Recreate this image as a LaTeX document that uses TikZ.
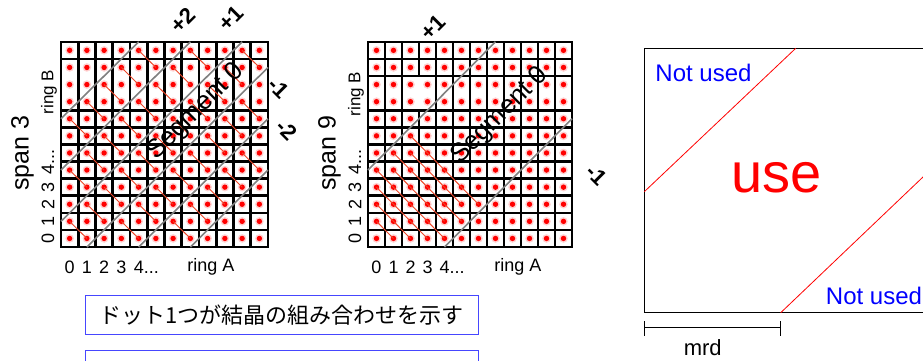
\documentclass[tikz,border=0pt]{standalone}
\usepackage{fontspec}
\setmainfont{Liberation Sans}
\newfontfamily\jpfont{Noto Sans CJK JP}
\definecolor{pairred}{RGB}{238,70,40}
\definecolor{boxblue}{RGB}{70,70,255}
\begin{document}
\begin{tikzpicture}[x=1pt,y=-1pt,
  cellst/.style={draw=black,line width=2.6pt,fill=white},
  dotst/.style={circle,fill=red,inner sep=0pt,minimum size=5.4pt},
  segline/.style={draw=gray,line width=1.6pt},
  pairline/.style={draw=pairred,line width=0.9pt},
  digit/.style={font=\fontsize{18}{18}\selectfont,inner sep=0pt},
  ringlab/.style={font=\fontsize{17}{17}\selectfont,inner sep=0pt},
  spanlab/.style={font=\fontsize{25}{25}\selectfont,inner sep=0pt,rotate=90},
  seglab/.style={font=\fontsize{26}{26}\selectfont,inner sep=0pt,rotate=45},
  bandlab/.style={font=\fontsize{22}{22}\selectfont\bfseries,inner sep=0pt},
  notused/.style={font=\fontsize{24}{24}\selectfont,text=blue,inner sep=0pt},
  jpbox/.style={draw=boxblue,line width=1pt,minimum width=393pt,minimum height=39pt,inner sep=0pt}]
\useasboundingbox (0,0) rectangle (923,360);
\fill[white] (0,0) rectangle (923,360);

% ---------------- left grid (span 3) ----------------
\begin{scope}[shift={(61,247)},x=17.25pt,y=17.1pt]
  \foreach \j in {0,...,7,11}{\foreach \i in {0,...,11}{\draw[cellst] (\i,\j) rectangle ++(1,1);}}
  \foreach \i in {0,...,11}{\draw[cellst] (\i,8) rectangle ++(1,3);}
  \foreach \c in {1.5,4.5,7.5}{
    \draw[segline] (0,\c) -- ({12-\c},12);
    \draw[segline] (\c,0) -- (12,{12-\c});
  }
  \foreach \i in {0,...,11}{\foreach \j in {0,...,11}{
    \fill[red!18] (\i+.5,\j+.5) circle (4.3pt);
    \node[dotst] (L-\i-\j) at (\i+.5,\j+.5) {};
  }}
  % segment 0
  \foreach \a in {0,...,10}{\pgfmathtruncatemacro\b{\a+1}
    \draw[pairline] (L-\a-\b.center) -- (L-\b-\a.center);}
  % segments +1 / -1
  \foreach \a in {0,...,7}{\pgfmathtruncatemacro\b{\a+1}\pgfmathtruncatemacro\c{\a+3}\pgfmathtruncatemacro\d{\a+4}
    \draw[pairline] (L-\a-\d.center) -- (L-\b-\c.center);
    \draw[pairline] (L-\d-\a.center) -- (L-\c-\b.center);}
  % segments +2 / -2
  \foreach \a in {0,...,4}{\pgfmathtruncatemacro\b{\a+1}\pgfmathtruncatemacro\c{\a+6}\pgfmathtruncatemacro\d{\a+7}
    \draw[pairline] (L-\a-\d.center) -- (L-\b-\c.center);
    \draw[pairline] (L-\d-\a.center) -- (L-\c-\b.center);}
\end{scope}

% labels left grid
\node[spanlab] (Lspan) at (22.5,153) {span 3};
\foreach \k in {0,...,3}{\node[digit,rotate=90] (Lv\k) at (48,{247-17.1*(\k+.5)}) {\k};}
\node[digit,rotate=90,anchor=west] (Lv4) at (48,{247-17.1*4.5+5}) {4...};
\node[ringlab,rotate=90] (LringB) at (49,92) {ring B};
\foreach \k in {0,...,3}{\node[digit] (Lh\k) at ({61+17.25*(\k+.5)},267) {\k};}
\node[digit,anchor=west] (Lh4) at ({61+17.25*4.5-5},267) {4...};
\node[ringlab,font=\fontsize{18}{18}\selectfont] (LringA) at (211,267) {ring A};
\node[bandlab,rotate=45] (Lp2) at (183,20) {+2};
\node[bandlab,rotate=45] (Lp1) at (231,18) {+1};
\node[bandlab,rotate=-45] (Lm1) at (279,88) {-1};
\node[bandlab,rotate=-45] (Lm2) at (287,130) {-2};
\node[seglab] (Lseg) at (196,112) {Segment 0};

% ---------------- right grid (span 9) ----------------
\begin{scope}[shift={(368,247)},x=17pt,y=17.1pt]
  \foreach \j in {0,...,7,10,11}{\foreach \i in {0,...,11}{\draw[cellst] (\i,\j) rectangle ++(1,1);}}
  \foreach \i in {0,1,4,5,6,7,8,9,10,11}{\draw[cellst] (\i,8) rectangle ++(1,2);}
  \draw[cellst] (2,8) rectangle ++(2,2);
  \draw[segline] (0,4.5) -- (7.5,12);
  \draw[segline] (4.5,0) -- (12,7.5);
  \foreach \i in {0,...,11}{\foreach \j in {0,...,11}{
    \fill[red!18] (\i+.5,\j+.5) circle (4.3pt);
    \node[dotst] (R-\i-\j) at (\i+.5,\j+.5) {};
  }}
  \foreach \s/\lo/\hi in {1/0/1,2/0/2,3/0/3,4/0/4,5/1/4,6/1/5,7/2/5,8/2/6}{
    \pgfmathtruncatemacro\blo{\s-\lo}\pgfmathtruncatemacro\bhi{\s-\hi}
    \draw[pairline] (R-\lo-\blo.center) -- (R-\hi-\bhi.center);}
\end{scope}

% labels right grid
\node[spanlab] (Rspan) at (329.5,153) {span 9};
\foreach \k in {0,...,3}{\node[digit,rotate=90] (Rv\k) at (355,{247-17.1*(\k+.5)}) {\k};}
\node[digit,rotate=90,anchor=west] (Rv4) at (355,{247-17.1*4.5+5}) {4...};
\node[ringlab,rotate=90] (RringB) at (356,94) {ring B};
\foreach \k in {0,...,3}{\node[digit] (Rh\k) at ({368+17*(\k+.5)},267) {\k};}
\node[digit,anchor=west] (Rh4) at ({368+17*4.5-5},267) {4...};
\node[ringlab,font=\fontsize{18}{18}\selectfont] (RringA) at (518,267) {ring A};
\node[bandlab,rotate=45] (Rp1) at (433,27) {+1};
\node[bandlab,rotate=-45] (Rm1) at (597,175) {-1};
\node[seglab] (Rseg) at (500,116) {Segment 0};

% ---------------- right panel ----------------
\coordinate (TL) at (644.3,48.3);
\coordinate (BR) at (945,312.7);
\draw[black,line width=0.8pt] (TL) rectangle (BR);
\coordinate (A1) at (644.3,191.7);
\coordinate (A2) at (795.7,48.3);
\coordinate (B1) at (780.7,312.7);
\coordinate (B2) at (945,156);
\draw[red,line width=0.8pt] (A1) -- (A2);
\draw[red,line width=0.8pt] (B1) -- (B2);
\node[notused] (NU1) at (703.5,73) {Not used};
\node[notused] (NU2) at (874,296) {Not used};
\node[font=\fontsize{56}{56}\selectfont,text=red,inner sep=0pt] (USE) at (776.7,178) {use};
\coordinate (M1) at (644.3,327.7);
\coordinate (M2) at (780,327.7);
\draw[black,line width=0.8pt] (M1) -- (M2);
\draw[black,line width=0.8pt] ([yshift=6.5pt]M1) -- ([yshift=-8.5pt]M1);
\draw[black,line width=0.8pt] ([yshift=6.5pt]M2) -- ([yshift=-8.5pt]M2);
\node[font=\fontsize{22}{22}\selectfont,inner sep=0pt] (MRD) at (702.7,347.5) {mrd};

% ---------------- bottom boxes ----------------
\node[jpbox,font=\jpfont\fontsize{22}{22}\selectfont] (J1) at (281.7,315.3) {ドット1つが結晶の組み合わせを示す};
\node[jpbox] (J2) at (281.7,369.5) {};
\end{tikzpicture}
\end{document}
